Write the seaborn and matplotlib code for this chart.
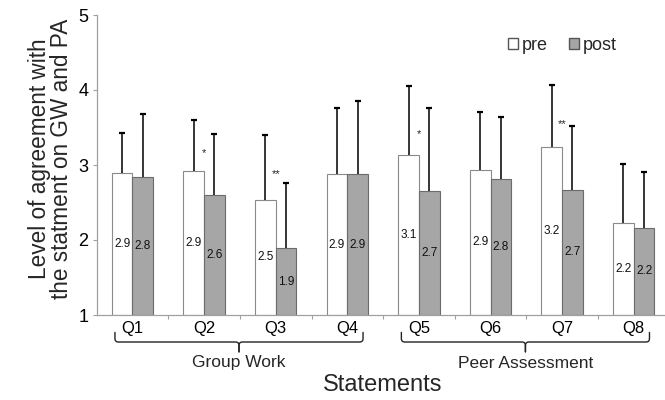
import matplotlib
matplotlib.use('Agg')
import matplotlib.pyplot as plt
from matplotlib.patches import Patch
from matplotlib.transforms import blended_transform_factory
import seaborn as sns
import pandas as pd
import numpy as np

# Data
statements = ['Q1', 'Q2', 'Q3', 'Q4', 'Q5', 'Q6', 'Q7', 'Q8']
pre_mean = [2.90, 2.92, 2.54, 2.88, 3.13, 2.94, 3.24, 2.23]
post_mean = [2.84, 2.60, 1.89, 2.88, 2.66, 2.82, 2.67, 2.16]
pre_sd = [0.53, 0.68, 0.86, 0.88, 0.93, 0.77, 0.83, 0.79]
post_sd = [0.84, 0.82, 0.87, 0.98, 1.10, 0.82, 0.85, 0.75]
stars = ['', '*', '**', '', '*', '', '**', '']
star_y = [0, 3.16, 2.88, 0, 3.41, 0, 3.55, 0]
groups = ['Group Work', 'Peer Assessment']
group_members = [['Q1', 'Q2', 'Q3', 'Q4'], ['Q5', 'Q6', 'Q7', 'Q8']]


def build_frame():
    rows = []
    for q, m in zip(statements, pre_mean):
        rows.append({'statement': q, 'time': 'pre', 'mean': m})
    for q, m in zip(statements, post_mean):
        rows.append({'statement': q, 'time': 'post', 'mean': m})
    return pd.DataFrame(rows)


def draw_brace(ax, x0, x1, label):
    """Curly bracket under the axis, x in data units, y in axes fraction"""
    trans = blended_transform_factory(ax.transData, ax.transAxes)
    xm = (x0 + x1) / 2
    y0, y1, y2 = -0.058, -0.09, -0.123
    rx, ry = 0.05, 0.012
    t = np.linspace(0, 1, 10)

    def quad(p0, c, p1):
        return [((1 - s) ** 2 * p0[0] + 2 * (1 - s) * s * c[0] + s ** 2 * p1[0],
                 (1 - s) ** 2 * p0[1] + 2 * (1 - s) * s * c[1] + s ** 2 * p1[1]) for s in t]

    for side in (1, -1):
        xs0 = x0 if side == 1 else x1
        pts = [(xs0, y0), (xs0, y1 + ry)]
        pts += quad((xs0, y1 + ry), (xs0, y1), (xs0 + side * rx, y1))
        pts += [(xm - side * rx, y1)]
        pts += quad((xm - side * rx, y1), (xm, y1), (xm, y1 - ry))
        pts += [(xm, y2)]
        xs, ys = zip(*pts)
        ax.plot(xs, ys, color='#222222', lw=1.0, transform=trans, clip_on=False)
    ax.text(xm, -0.16, label, transform=trans, ha='center', va='center',
            fontsize=12.5)


def main():
    sns.set_theme(style='white')
    plt.rcParams['font.family'] = ['Liberation Sans', 'DejaVu Sans']

    df = build_frame()
    pre_face, post_face = 'white', '#a6a6a6'
    pre_edge, post_edge = '#8a8a8a', '#6b6b6b'

    fig = plt.figure(figsize=(6.65, 4.0), dpi=100)
    ax = fig.add_axes([0.1454, 0.2125, 0.8614, 0.75])

    sns.barplot(data=df, x='statement', y='mean', hue='time',
                palette={'pre': pre_face, 'post': post_face},
                width=0.58, errorbar=None, ax=ax, legend=False,
                linewidth=0.8)

    ymin = 1
    for container, sds, edge in zip(ax.containers, [pre_sd, post_sd],
                                     [pre_edge, post_edge]):
        xs, tops = [], []
        for p in container:
            top = p.get_height()
            p.set_y(ymin)
            p.set_height(top - ymin)
            p.set_edgecolor(edge)
            xs.append(p.get_x() + p.get_width() / 2)
            tops.append(top)
        # upper-only error bars with a cap at the end
        ends = np.array(tops) + np.array(sds)
        ax.vlines(xs, tops, ends, color='black', lw=1.1, zorder=3)
        ax.plot(xs, ends, linestyle='none', marker='_', markersize=4,
                markeredgewidth=1.6, color='black', zorder=3)
        ax.bar_label(container, labels=[f'{v:.1f}' for v in tops],
                     label_type='center', fontsize=8.5, color='#111111')

    for i, (s, y) in enumerate(zip(stars, star_y)):
        if s:
            ax.text(i, y, s, ha='center', va='center', fontsize=8)

    ax.set_ylim(1, 5)
    ax.set_xlim(-0.5, len(statements) - 0.5)
    ax.set_yticks([1, 2, 3, 4, 5])
    ax.set_xlabel('')
    ax.set_ylabel('')

    for side in ('top', 'right'):
        ax.spines[side].set_visible(False)
    for side in ('left', 'bottom'):
        ax.spines[side].set_color('#a0a0a0')
        ax.spines[side].set_linewidth(0.9)

    ax.tick_params(axis='y', which='major', left=True, length=3, width=0.8,
                   color='#a0a0a0', labelsize=13, pad=3, labelcolor='black')
    ax.tick_params(axis='x', which='major', bottom=False, length=0,
                   labelsize=12, pad=4, labelcolor='black')
    ax.set_xticks(np.arange(len(statements)) + 0.5, minor=True)
    ax.tick_params(axis='x', which='minor', bottom=True, length=3, width=0.8,
                   color='#a0a0a0')

    for name, members in zip(groups, group_members):
        i0 = statements.index(members[0])
        i1 = statements.index(members[-1])
        draw_brace(ax, i0 - 0.245, i1 + 0.22, name)

    ax.text(0.5, -0.233, 'Statements', transform=ax.transAxes,
            ha='center', va='center', fontsize=17)
    ax.text(-0.080, 0.52, 'Level of agreement with\nthe statment on GW and PA',
            transform=ax.transAxes, ha='center', va='center', rotation=90,
            fontsize=16.3, linespacing=0.95)

    handles = [Patch(facecolor=pre_face, edgecolor='#555555', label='pre'),
               Patch(facecolor=post_face, edgecolor='#555555', label='post')]
    ax.legend(handles=handles, ncol=2, frameon=False, loc='center left',
              bbox_to_anchor=(0.705, 0.9), fontsize=13, handlelength=0.55,
              handleheight=0.55, handletextpad=0.2, columnspacing=1.2,
              borderaxespad=0)

    fig.savefig('out.png', dpi=100)
    plt.close(fig)


if __name__ == '__main__':
    main()
